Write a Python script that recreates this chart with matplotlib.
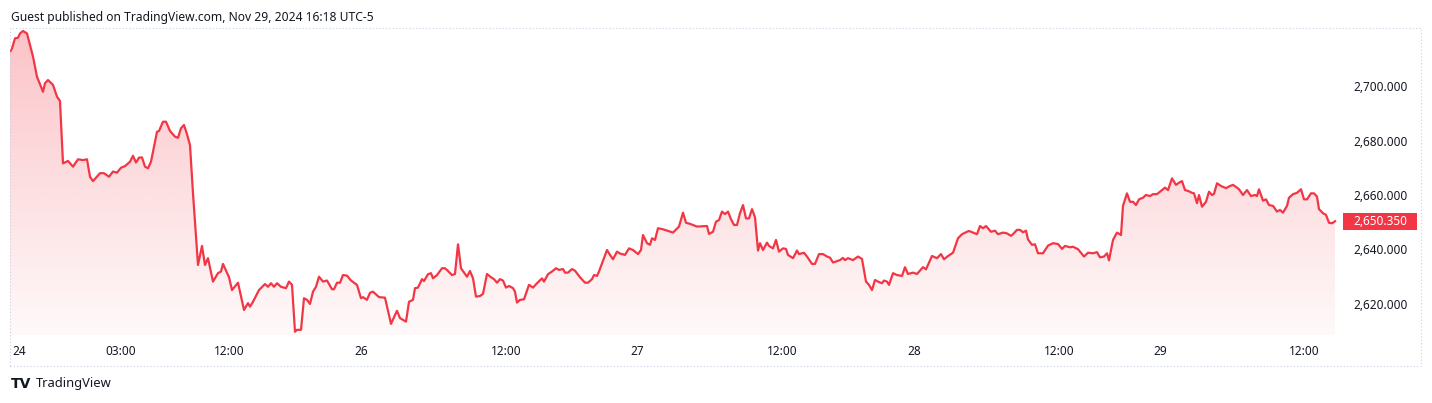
import numpy as np
import matplotlib
matplotlib.use("Agg")
import matplotlib.pyplot as plt
from matplotlib.patches import Rectangle, Polygon
from matplotlib.ticker import FuncFormatter
import matplotlib.transforms as mtransforms

plt.rcParams['font.family'] = ['Noto Sans', 'DejaVu Sans']

# 5-minute bar index since the Sunday open, and price
bars = [0, 2, 5, 8, 10, 13, 17, 20, 23, 27, 29, 33, 35, 38, 43, 47, 50, 53, 58, 63,
        68, 73, 77, 80, 83, 90, 94, 99, 103, 107, 111, 115, 120, 123, 126, 129, 132, 135, 138, 141,
        147, 149, 153, 156, 160, 165, 168, 171, 174, 177, 180, 183, 188, 192, 195, 198, 203, 208, 211, 213,
        219, 222, 228, 234, 238, 240, 243, 249, 255, 258, 261, 264, 267, 271, 276, 279, 282, 285, 287, 291,
        294, 297, 300, 303, 306, 309, 313, 317, 322, 324, 327, 330, 333, 337, 341, 347, 351, 353, 357, 360,
        363, 369, 375, 381, 387, 390, 396, 399, 403, 405, 408, 412, 414, 418, 421, 423, 427, 432, 435, 438,
        442, 445, 448, 451, 457, 460, 463, 466, 470, 473, 477, 481, 484, 487, 490, 493, 496, 499, 503, 505,
        507, 510, 514, 519, 523, 527, 532, 534, 538, 542, 546, 549, 553, 555, 558, 562, 565, 570, 575, 578,
        582, 584, 587, 589, 593, 597, 600, 603, 607, 610, 615, 619, 623, 628, 631, 633, 637, 640, 642, 645,
        648, 653, 663, 669, 673, 676, 680, 687, 697, 699, 703, 706, 709, 712, 715, 718, 721, 724, 727, 730,
        733, 736, 739, 742, 745, 748, 750, 753, 757, 759, 763, 766, 769, 773, 776, 778, 783, 787, 789, 794,
        797, 802, 805, 809, 813, 817, 820, 823, 830, 833, 835, 838, 843, 848, 852, 856, 859, 862, 865, 868,
        872, 874, 877, 879, 883, 887, 892, 895, 898, 903, 907, 913, 916, 922, 927, 931, 934, 938, 943, 948,
        952, 957, 959, 963, 967, 970, 973, 976, 981, 985, 988, 993, 997, 1001, 1003, 1007, 1010, 1013, 1016, 1018,
        1022, 1025, 1028, 1033, 1038, 1043, 1048, 1052, 1055, 1060, 1063, 1068, 1074, 1078, 1083, 1087, 1090, 1094, 1097, 1099,
        1103, 1107, 1111, 1113, 1117, 1120, 1123, 1126, 1129, 1133, 1136, 1140, 1143, 1147, 1152, 1155, 1158, 1162, 1166, 1169,
        1172, 1175, 1178, 1182, 1184, 1187, 1189, 1192, 1196, 1199, 1202, 1204, 1207, 1211, 1216, 1220, 1223, 1227, 1229, 1233,
        1237, 1241, 1245, 1247, 1249, 1253, 1256, 1259, 1263, 1267, 1270, 1273, 1277, 1279, 1283, 1287, 1291, 1294, 1297, 1301,
        1304, 1307, 1309, 1313, 1316, 1319, 1322, 1325]

price = [2712.5, 2713.8, 2717.5, 2717.7, 2719.3, 2720.2, 2719.3, 2715.0, 2710.8, 2703.4, 2701.6, 2697.9, 2701.0, 2702.2, 2700.4, 2696.1, 2694.5, 2671.6, 2672.5, 2670.4,
         2673.1, 2672.8, 2673.1, 2666.7, 2665.1, 2668.0, 2668.0, 2666.7, 2668.6, 2668.2, 2670.0, 2670.6, 2672.2, 2674.4, 2671.9, 2673.7, 2673.8, 2670.4, 2669.8, 2672.2,
         2683.2, 2683.5, 2686.9, 2686.9, 2683.5, 2681.4, 2681.0, 2684.5, 2685.7, 2682.3, 2678.3, 2660.6, 2634.3, 2641.3, 2634.3, 2636.8, 2628.2, 2631.3, 2631.9, 2634.7,
         2629.8, 2625.1, 2627.8, 2617.8, 2620.3, 2619.0, 2620.8, 2625.1, 2627.3, 2626.3, 2627.6, 2626.3, 2627.6, 2626.3, 2625.8, 2628.2, 2627.0, 2609.8, 2610.5, 2610.5,
         2622.1, 2621.5, 2620.0, 2624.5, 2626.3, 2630.0, 2628.2, 2628.6, 2625.4, 2625.4, 2627.8, 2627.8, 2630.6, 2630.4, 2628.6, 2627.0, 2622.1, 2622.5, 2621.5, 2624.1,
         2624.5, 2622.5, 2622.3, 2612.7, 2617.5, 2614.8, 2613.5, 2620.8, 2621.5, 2625.8, 2626.0, 2629.1, 2628.4, 2630.9, 2631.3, 2629.4, 2630.6, 2633.1, 2633.1, 2632.1,
         2630.6, 2631.0, 2641.9, 2633.1, 2630.0, 2632.1, 2629.4, 2622.7, 2622.9, 2623.7, 2631.0, 2629.8, 2629.1, 2627.8, 2629.1, 2628.6, 2626.0, 2626.6, 2625.8, 2624.5,
         2620.5, 2621.5, 2621.7, 2627.0, 2626.0, 2627.6, 2629.4, 2628.2, 2630.9, 2631.9, 2633.1, 2632.5, 2632.8, 2631.5, 2631.5, 2632.8, 2632.2, 2629.8, 2627.8, 2627.8,
         2629.1, 2630.6, 2630.3, 2631.9, 2635.8, 2639.8, 2638.0, 2636.4, 2639.2, 2638.5, 2638.0, 2640.4, 2639.8, 2638.3, 2639.8, 2645.3, 2642.3, 2641.7, 2644.1, 2643.5,
         2647.8, 2647.4, 2646.2, 2648.4, 2653.5, 2649.8, 2649.4, 2648.4, 2648.6, 2645.7, 2646.5, 2650.2, 2650.8, 2653.9, 2653.0, 2653.9, 2651.1, 2649.0, 2649.0, 2653.3,
         2656.3, 2651.4, 2651.4, 2654.8, 2651.8, 2639.6, 2642.3, 2639.8, 2642.5, 2641.3, 2640.4, 2643.5, 2639.2, 2640.4, 2640.2, 2638.0, 2636.8, 2639.6, 2638.3, 2638.8,
         2637.4, 2634.7, 2634.7, 2638.3, 2638.3, 2637.4, 2637.0, 2635.2, 2636.1, 2636.9, 2636.1, 2636.8, 2636.1, 2637.4, 2636.5, 2628.2, 2627.0, 2625.1, 2628.8, 2628.2,
         2627.6, 2628.6, 2628.2, 2627.0, 2631.3, 2630.6, 2630.3, 2633.5, 2631.0, 2631.5, 2631.0, 2633.5, 2632.7, 2637.6, 2636.8, 2638.3, 2636.4, 2637.6, 2638.8, 2644.1,
         2645.6, 2646.5, 2646.8, 2646.2, 2645.6, 2648.6, 2647.8, 2648.6, 2646.5, 2646.9, 2645.6, 2646.2, 2645.9, 2645.0, 2645.6, 2647.2, 2647.2, 2646.3, 2646.9, 2643.7,
         2641.7, 2641.9, 2638.6, 2638.6, 2641.4, 2642.3, 2642.0, 2640.2, 2641.3, 2640.8, 2641.0, 2640.1, 2637.4, 2638.8, 2638.6, 2639.0, 2637.1, 2637.4, 2638.6, 2636.0,
         2643.5, 2646.2, 2645.3, 2656.0, 2660.6, 2657.5, 2657.5, 2656.3, 2658.4, 2659.0, 2660.0, 2659.6, 2660.3, 2660.3, 2661.8, 2662.7, 2661.8, 2666.1, 2663.7, 2664.5,
         2665.1, 2661.8, 2661.5, 2660.8, 2660.6, 2657.0, 2660.0, 2655.7, 2657.5, 2661.2, 2660.0, 2660.4, 2664.3, 2663.3, 2662.5, 2663.3, 2663.7, 2662.7, 2662.1, 2660.0,
         2661.8, 2659.6, 2660.0, 2659.6, 2662.1, 2657.9, 2658.4, 2656.3, 2656.0, 2653.9, 2654.5, 2653.5, 2656.0, 2659.0, 2660.3, 2660.8, 2662.1, 2658.4, 2658.4, 2660.6,
         2660.6, 2659.4, 2654.8, 2653.3, 2652.7, 2649.8, 2649.6, 2650.35]

tick_bars = [9, 111, 219, 351, 496, 627, 772, 904, 1049, 1150, 1294]
tick_labels = ["24", "03:00", "12:00", "26", "12:00", "27", "12:00", "28", "12:00", "29", "12:00"]
day_labels = {"24", "26", "27", "28", "29"}
price_ticks = [2620, 2640, 2660, 2680, 2700]

RED = '#F23645'
TEXT = '#131722'

W, H = 1432, 403
fig = plt.figure(figsize=(W / 100, H / 100), dpi=100)
ax = fig.add_axes([10 / W, (H - 335) / H, (1338 - 10) / W, (335 - 28) / H])

ax.set_xlim(0, 1328)
ax.set_ylim(2608.6, 2721.3)

# gradient fill under the line
ymin, ymax = ax.get_ylim()
n = 256
alpha = np.linspace(0.03, 0.30, n).reshape(n, 1)
grad = np.zeros((n, 1, 4))
grad[..., 0] = 242 / 255
grad[..., 1] = 54 / 255
grad[..., 2] = 69 / 255
grad[..., 3] = alpha
im = ax.imshow(grad, extent=[bars[0], bars[-1], ymin, max(price)], origin='lower',
               aspect='auto', interpolation='bilinear', zorder=1)
verts = [(bars[0], ymin)] + list(zip(bars, price)) + [(bars[-1], ymin)]
clip = Polygon(verts, closed=True, facecolor='none', edgecolor='none')
ax.add_patch(clip)
im.set_clip_path(clip)
ax.set_xlim(0, 1328)
ax.set_ylim(ymin, ymax)

ax.plot(bars, price, color=RED, lw=1.6, zorder=3, solid_joinstyle='round')

for s in ax.spines.values():
    s.set_visible(False)

ax.set_xticks(tick_bars)
ax.set_xticklabels(tick_labels)
for lbl in ax.get_xticklabels():
    if lbl.get_text() in day_labels:
        lbl.set_fontweight('bold')
ax.tick_params(axis='x', length=0, pad=7, labelsize=8.5, colors=TEXT)

ax.yaxis.tick_right()
ax.set_yticks(price_ticks)
ax.yaxis.set_major_formatter(FuncFormatter(lambda v, p: f"{v:,.3f}"))
ax.tick_params(axis='y', length=0, pad=11, labelsize=8.5, colors=TEXT)

# last price label
last = price[-1]
trans = mtransforms.blended_transform_factory(ax.transAxes, ax.transData)
ax.add_patch(Rectangle(((1343 - 10) / 1328, last - 3.2), (1417 - 1343) / 1328, 6.4,
                       transform=trans, facecolor=RED, edgecolor='none', clip_on=False, zorder=5))
ax.text((1353 - 10) / 1328, last, f"{last:,.3f}", transform=trans, ha='left', va='center',
        color='white', fontsize=8.5, zorder=6, clip_on=False)

# dotted frame
fig.patches.append(Rectangle((10 / W, (H - 366) / H), (1421 - 10) / W, (366 - 28) / H,
                             transform=fig.transFigure, fill=False, edgecolor='#c9d2e3',
                             linestyle=(0, (1, 2)), lw=0.8))

fig.text(11 / W, 1 - 17 / H, "Guest published on TradingView.com, Nov 29, 2024 16:18 UTC-5",
         ha='left', va='center', fontsize=8.7, color=TEXT)
fig.text(11 / W, 1 - 384 / H, "TV", ha='left', va='center', fontsize=10,
         fontweight='bold', family='DejaVu Sans', color=TEXT)
fig.text(36 / W, 1 - 384 / H, "TradingView", ha='left', va='center', fontsize=9.3, color=TEXT)

fig.savefig("out.png", dpi=100, facecolor='white')
